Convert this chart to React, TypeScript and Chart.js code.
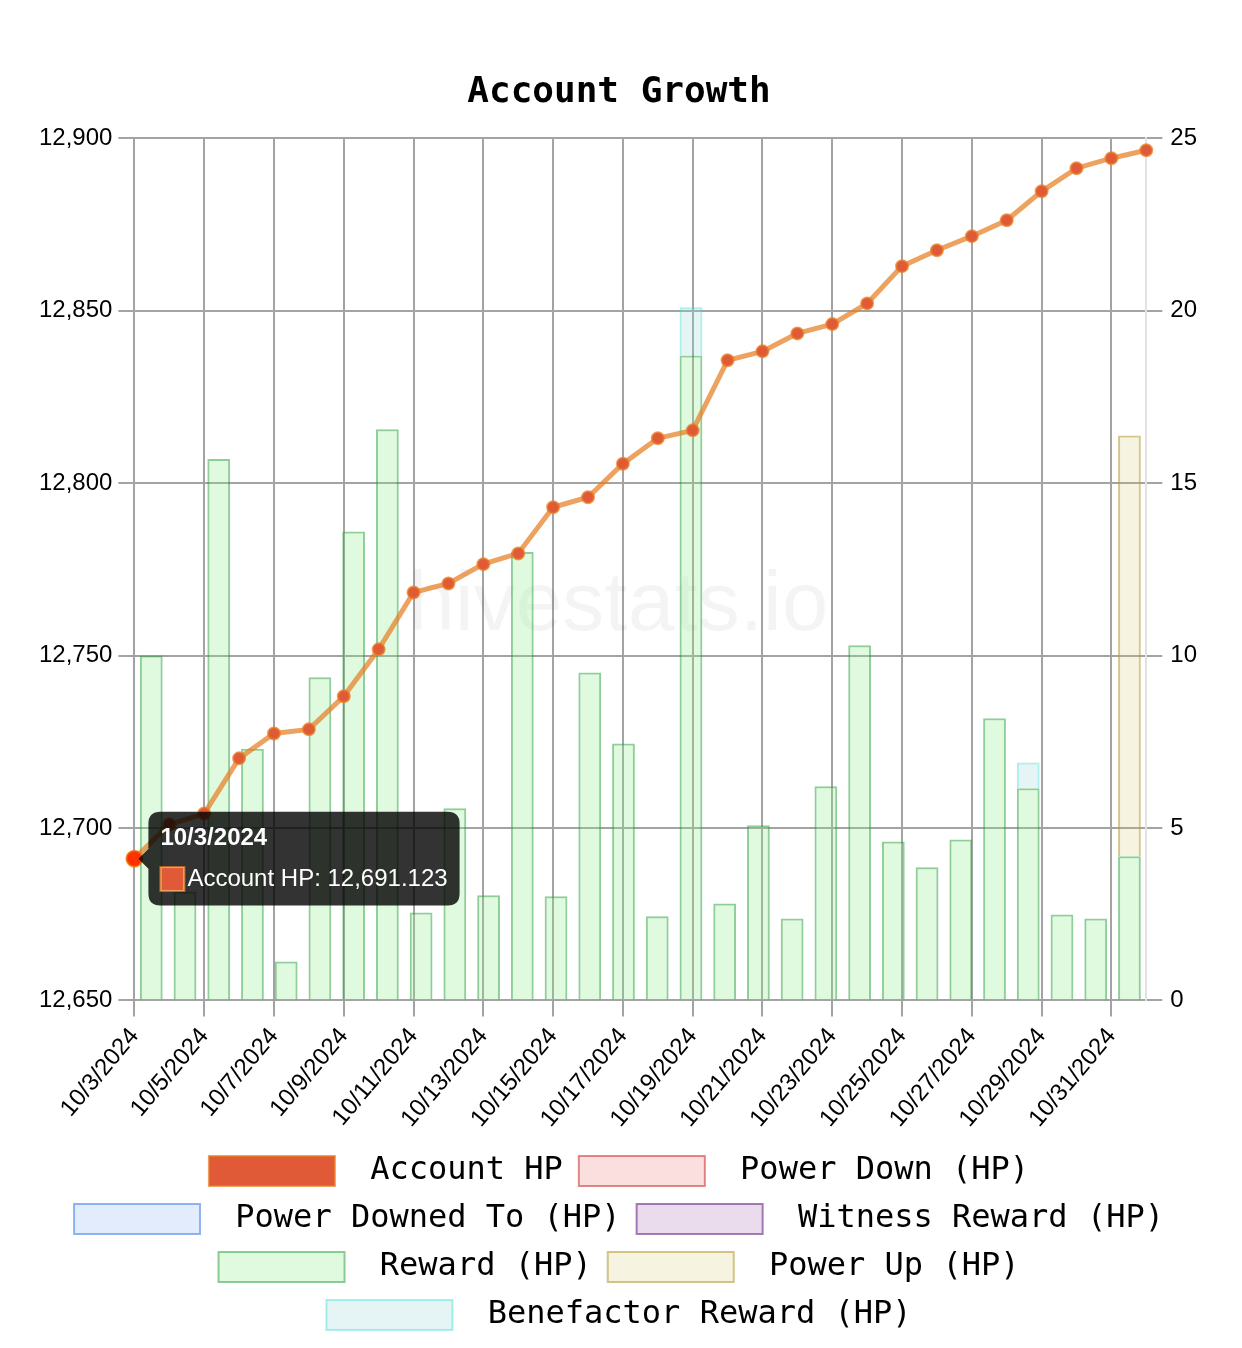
import React, { useEffect, useRef } from 'react';
import { Chart, registerables } from 'chart.js';

Chart.register(...registerables);

const dates = [
  '10/3/2024', '10/4/2024', '10/5/2024', '10/6/2024', '10/7/2024', '10/8/2024',
  '10/9/2024', '10/10/2024', '10/11/2024', '10/12/2024', '10/13/2024', '10/14/2024',
  '10/15/2024', '10/16/2024', '10/17/2024', '10/18/2024', '10/19/2024', '10/20/2024',
  '10/21/2024', '10/22/2024', '10/23/2024', '10/24/2024', '10/25/2024', '10/26/2024',
  '10/27/2024', '10/28/2024', '10/29/2024', '10/30/2024', '10/31/2024', '11/1/2024',
];

const accountHP = [
  12691.123, 12701.0, 12704.2, 12720.2, 12727.4, 12728.6,
  12738.2, 12751.8, 12768.3, 12770.9, 12776.5, 12779.6,
  12793.0, 12795.9, 12805.6, 12813.0, 12815.3, 12835.6,
  12838.2, 12843.4, 12846.1, 12852.1, 12862.9, 12867.5,
  12871.6, 12876.2, 12884.6, 12891.3, 12894.2, 12896.5,
];

const powerDown = [
  null, null, null, null, null, null, null, null, null, null,
  null, null, null, null, null, null, null, null, null, null,
  null, null, null, null, null, null, null, null, null, null,
];

const powerDownedTo = [
  null, null, null, null, null, null, null, null, null, null,
  null, null, null, null, null, null, null, null, null, null,
  null, null, null, null, null, null, null, null, null, null,
];

const witnessReward = [
  null, null, null, null, null, null, null, null, null, null,
  null, null, null, null, null, null, null, null, null, null,
  null, null, null, null, null, null, null, null, null, null,
];

const reward = [
  10.0, 3.16, 15.7, 7.3, 1.13, 9.37, 13.6, 16.56, 2.55, 5.57,
  3.05, 13.0, 3.02, 9.51, 7.45, 2.44, 18.7, 2.81, 5.08, 2.38,
  6.21, 10.3, 4.61, 3.86, 4.67, 8.18, 6.15, 2.49, 2.38, 4.18,
];

const powerUp = [
  null, null, null, null, null, null, null, null, null, null,
  null, null, null, null, null, null, null, null, null, null,
  null, null, null, null, null, null, null, null, null, 12.2,
];

const benefactorReward = [
  null, null, null, null, null, null, null, null, null, null,
  null, null, null, null, null, null, 1.4, null, null, null,
  null, null, null, null, null, null, 0.75, null, null, null,
];

const hpTicks = { min: 12650, max: 12900, step: 50 };
const barTicks = { min: 0, max: 25, step: 5 };

const GRID = '#a3a3a3';
const SANS = '"Liberation Sans", Arial, Helvetica, sans-serif';
const MONO = '"DejaVu Sans Mono", monospace';

const watermark = {
  id: 'watermark',
  beforeDatasetsDraw(chart: any) {
    const { ctx, chartArea } = chart;
    ctx.save();
    ctx.font = `84px ${SANS}`;
    ctx.fillStyle = 'rgba(0,0,0,0.045)';
    ctx.textAlign = 'center';
    ctx.textBaseline = 'alphabetic';
    const x = (chartArea.left + chartArea.right) / 2 - 22;
    const y = chartArea.top + 492;
    ctx.fillText('hivestats.io', x, y);
    ctx.restore();
  },
};

function barDataset(label: string, data: any[], bg: string, border: string) {
  return {
    type: 'bar' as const,
    label,
    data,
    backgroundColor: bg,
    borderColor: border,
    borderWidth: 2,
    xAxisID: 'xb',
    yAxisID: 'y1',
    stack: 'hp',
    grouped: false,
    barPercentage: 0.9,
    categoryPercentage: 0.75,
    order: 2,
  };
}

export default function App() {
  const ref = useRef<HTMLCanvasElement | null>(null);

  useEffect(() => {
    if (!ref.current) return;
    const chart = new Chart(ref.current, {
      type: 'bar',
      data: {
        labels: dates,
        datasets: [
          {
            type: 'line',
            label: 'Account HP',
            data: accountHP,
            backgroundColor: '#e05a38',
            borderColor: 'rgba(230,126,34,0.72)',
            borderWidth: 5,
            pointRadius: 6,
            pointHoverRadius: 8,
            pointBorderWidth: 2,
            pointHoverBorderWidth: 2,
            pointBackgroundColor: '#e05a38',
            pointBorderColor: 'rgba(230,126,34,0.72)',
            tension: 0,
            xAxisID: 'x',
            yAxisID: 'y',
            order: 1,
          } as any,
          barDataset('Power Down (HP)', powerDown, 'rgba(240,128,128,0.25)', 'rgba(205,60,60,0.6)'),
          barDataset('Power Downed To (HP)', powerDownedTo, 'rgba(100,149,237,0.18)', 'rgba(100,149,237,0.7)'),
          barDataset('Witness Reward (HP)', witnessReward, 'rgba(150,80,160,0.2)', 'rgba(128,70,150,0.7)'),
          barDataset('Reward (HP)', reward, 'rgba(144,238,144,0.28)', 'rgba(40,160,60,0.52)'),
          barDataset('Power Up (HP)', powerUp, 'rgba(210,200,100,0.2)', 'rgba(180,160,60,0.6)'),
          barDataset('Benefactor Reward (HP)', benefactorReward, 'rgba(150,210,210,0.25)', 'rgba(64,224,208,0.45)'),
        ],
      },
      options: {
        animation: false,
        responsive: true,
        maintainAspectRatio: false,
        layout: { padding: { left: 25, right: 29, top: 30, bottom: 0 } },
        scales: {
          x: {
            type: 'category',
            offset: false,
            grid: {
              offset: false,
              color: (c: any) => (c.index % 2 === 0 ? GRID : 'rgba(0,0,0,0)'),
              lineWidth: 2,
              tickLength: 16,
            },
            border: { display: true, color: GRID, width: 2 },
            ticks: {
              autoSkip: false,
              minRotation: 50,
              maxRotation: 50,
              padding: 6,
              color: '#000',
              font: { family: SANS, size: 24 },
              callback: function (this: any, value: any, index: number) {
                return index % 2 === 0 ? this.getLabelForValue(value) : '';
              },
            },
          },
          xb: {
            type: 'category',
            display: false,
            offset: true,
            stacked: true,
            grid: { offset: true },
          },
          y: {
            type: 'linear',
            position: 'left',
            min: hpTicks.min,
            max: hpTicks.max,
            grid: { color: GRID, lineWidth: 2, tickLength: 16 },
            border: { display: true, color: GRID, width: 2 },
            ticks: {
              stepSize: hpTicks.step,
              padding: 6,
              color: '#000',
              font: { family: SANS, size: 24 },
            },
          },
          y1: {
            type: 'linear',
            position: 'right',
            min: barTicks.min,
            max: barTicks.max,
            stacked: true,
            grid: { drawOnChartArea: false, color: GRID, lineWidth: 2, tickLength: 16 },
            border: { display: true, color: '#e2e2e2', width: 2 },
            ticks: {
              stepSize: barTicks.step,
              padding: 8,
              color: '#000',
              font: { family: SANS, size: 24 },
            },
          },
        },
        plugins: {
          title: {
            display: true,
            text: 'Account Growth',
            color: '#000',
            font: { family: MONO, size: 36, weight: 'bold' },
            padding: { top: 33, bottom: 24 },
          },
          legend: {
            position: 'bottom',
            labels: {
              color: '#000',
              boxWidth: 126,
              boxHeight: 30,
              padding: 16,
              font: { family: MONO, size: 32 },
              generateLabels: (c: any) => {
                const items = (Chart.defaults.plugins.legend.labels as any).generateLabels(c);
                return items.map((it: any) => ({ ...it, text: ' ' + it.text, lineWidth: 2 }));
              },
            },
          },
          tooltip: {
            backgroundColor: 'rgba(0,0,0,0.8)',
            titleFont: { family: SANS, size: 24, weight: 'bold' },
            bodyFont: { family: SANS, size: 24 },
            padding: 12,
            caretSize: 10,
            caretPadding: 4,
            cornerRadius: 12,
            titleMarginBottom: 12,
            boxPadding: 1,
            callbacks: {
              label: (item: any) =>
                `${item.dataset.label}: ${Number(item.raw).toLocaleString('en-US', {
                  minimumFractionDigits: 3,
                  maximumFractionDigits: 3,
                })}`,
            },
          },
        },
      } as any,
      plugins: [watermark],
    });

    const active = [{ datasetIndex: 0, index: 0 }];
    chart.setActiveElements(active);
    const el: any = chart.getDatasetMeta(0).data[0];
    chart.tooltip?.setActiveElements(active, { x: el.x, y: el.y });
    chart.update();

    return () => chart.destroy();
  }, []);

  return (
    <div style={{ width: 1226, height: 1333, position: 'relative' }}>
      <canvas ref={ref} />
    </div>
  );
}
